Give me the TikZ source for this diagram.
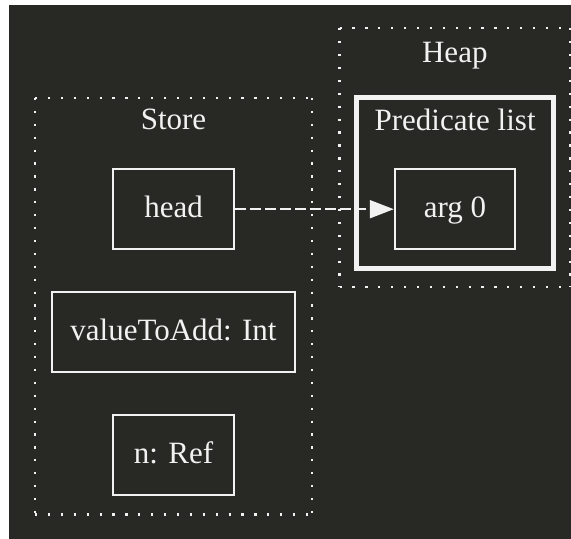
\documentclass[tikz,border=0pt]{standalone}
\usepackage{fontspec}
\setmainfont{Liberation Serif}
\usetikzlibrary{arrows.meta}
\definecolor{canvas}{RGB}{40,40,36}
\definecolor{ink}{RGB}{242,242,242}
\begin{document}
\begin{tikzpicture}[x=1bp, y=-1bp,
  every node/.style={text=ink, font=\fontsize{31bp}{37bp}\selectfont},
  varbox/.style={draw=ink, line width=2bp, inner sep=0pt,
    minimum height=80bp, text height=21bp, text depth=4bp},
  cluster/.style={draw=ink, line width=2.4bp,
    dash pattern=on 2.2bp off 10.7bp},
  title/.style={anchor=base},
  pointer/.style={draw=ink, line width=2bp, dash pattern=on 10.7bp off 4.3bp,
    -{Triangle[length=24bp, width=18bp, fill=ink]}}]

  % page and dark canvas
  \useasboundingbox (0,0) rectangle (571,539);
  \fill[white] (0,0) rectangle (571,539);
  \fill[canvas] (8.5,5) rectangle (571,539);

  % Store cluster: each side starts at a corner so the dots meet cleanly
  \coordinate (sNW) at (35,98);
  \coordinate (sNE) at (312,98);
  \coordinate (sSE) at (312,514.3);
  \coordinate (sSW) at (35,514.3);
  \draw[cluster] (sNW) -- (sNE);
  \draw[cluster] (sNE) -- (sSE);
  \draw[cluster] (sSW) -- (sSE);
  \draw[cluster] (sNW) -- (sSW);
  \node[title] (storelbl) at (173.5,129.5) {Store};

  % Heap cluster
  \coordinate (hNW) at (339.5,28.3);
  \coordinate (hNE) at (570,28.3);
  \coordinate (hSE) at (570,287);
  \coordinate (hSW) at (339.5,287);
  \draw[cluster] (hNW) -- (hNE);
  \draw[cluster] (hNE) -- (hSE);
  \draw[cluster] (hSW) -- (hSE);
  \draw[cluster] (hNW) -- (hSW);
  \node[title] (heaplbl) at (454.8,62.5) {Heap};

  % Predicate list
  \node[draw=ink, line width=5bp, minimum width=196.8bp, minimum height=171.7bp,
        inner sep=0pt] (predlist) at (455.1,182.9) {};
  \node[title] (predlbl) at (455.1,130.3) {Predicate list};

  % store variables
  \node[varbox, minimum width=121bp] (head) at (173.7,209.2) {head};
  \node[varbox, minimum width=242bp] (value) at (173.5,331.5) {valueToAdd: Int};
  \node[varbox, minimum width=121bp] (nref) at (173.5,454.6) {n: Ref};

  % heap argument
  \node[varbox, minimum width=120.5bp] (arg) at (455,209.2) {arg 0};

  % pointer from head into the predicate
  \draw[pointer] (head.east) -- (arg.west);
\end{tikzpicture}
\end{document}
